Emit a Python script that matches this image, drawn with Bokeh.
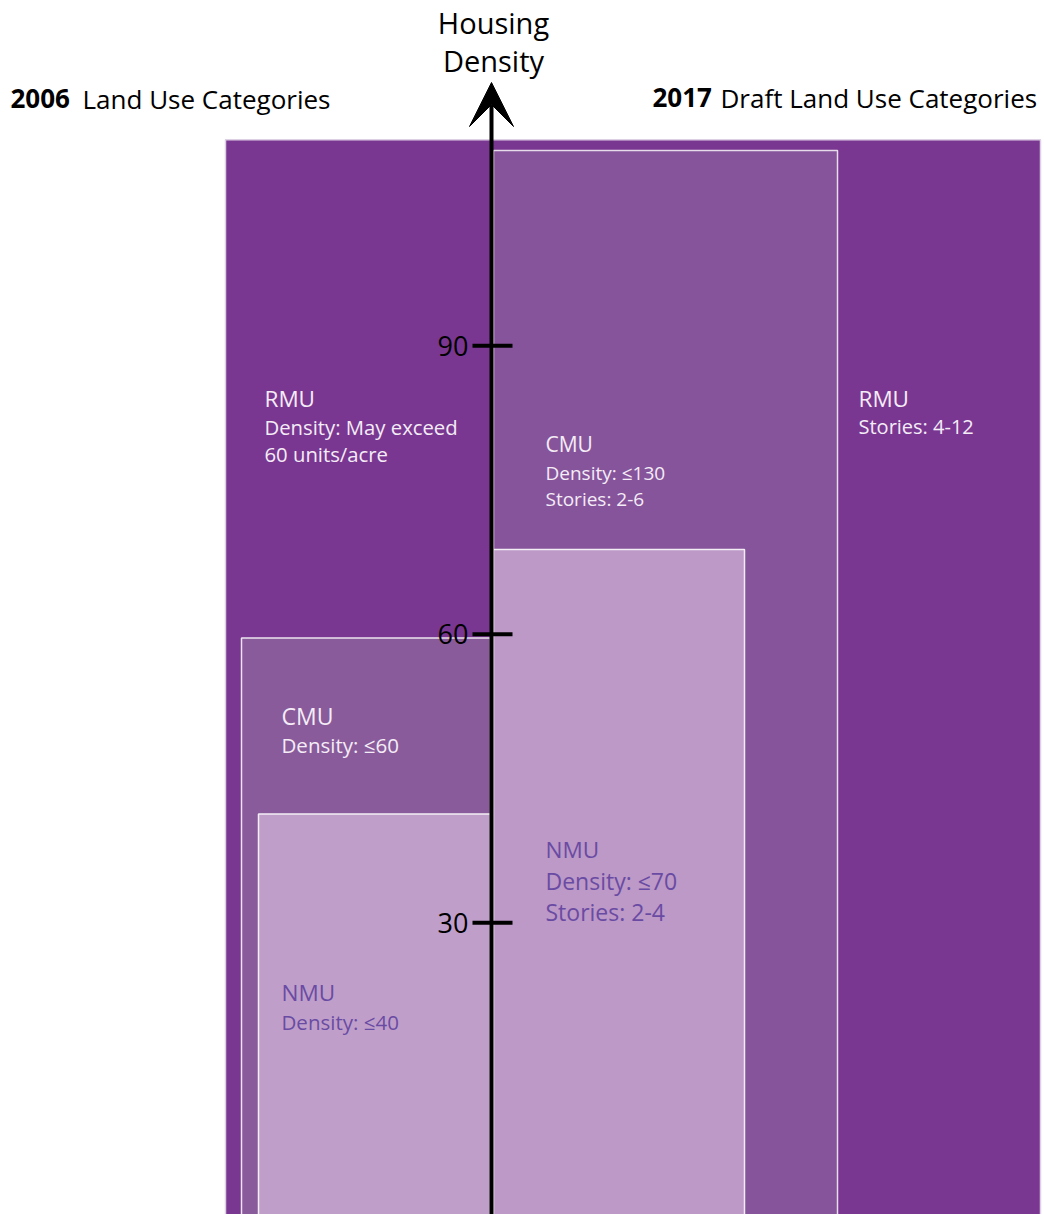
from bokeh.plotting import figure
from bokeh.models import Range1d, ColumnDataSource, Arrow, VeeHead
from bokeh.core.properties import value
from bokeh.embed import file_html
from bokeh.resources import INLINE

# ---------------- data ----------------
zones = ["RMU", "CMU", "NMU", "CMU", "NMU"]
plan_year = ["2006+2017", "2017", "2017", "2006", "2006"]
# top of each block on the density axis, as drawn in the picture
block_top = [111.4, 110.3, 68.8, 59.6, 41.3]
block_bottom = [-5, -5, -5, -5, -5]
tick_values = [30, 60, 90]
tick_labels = ["30", "60", "90"]
axis_title = ["Housing", "Density"]
left_title = ["2006", "Land Use Categories"]
right_title = ["2017", "Draft Land Use Categories"]
block_text = {
    "RMU_2006": ["RMU", "Density: May exceed", "60 units/acre"],
    "RMU_2017": ["RMU", "Stories: 4-12"],
    "CMU_2017": ["CMU", "Density: \u2264130", "Stories: 2-6"],
    "CMU_2006": ["CMU", "Density: \u226460"],
    "NMU_2017": ["NMU", "Density: \u226470", "Stories: 2-4"],
    "NMU_2006": ["NMU", "Density: \u226440"],
}

# ---------------- layout / style ----------------
W, H = 1044, 1214
K = 9.617
Y1 = 1210.7 / K
Y0 = Y1 - H / K


def py(img_y):
    """pixel row -> density axis value (annotation placement only)"""
    return Y1 - img_y / K


FONT = "Open Sans"
block_left = [225, 493, 493, 241, 258]
block_right = [1040, 837, 744, 490, 490]
block_fill = ["#7a3792", "#86549b", "#bc99c7", "#895b9b", "#bf9fca"]
block_line = ["#ddd0e4", "#e6dcea", "#f2ecf4", "#ece4ef", "#f4eef6"]
AXIS_X = 491

p = figure(width=W, height=H, x_range=Range1d(0, W), y_range=Range1d(Y0, Y1),
           output_backend="svg", toolbar_location=None, min_border=0,
           x_axis_location=None, y_axis_location=None)
p.grid.visible = False
p.outline_line_color = None
p.background_fill_color = "white"
p.border_fill_color = "white"

src = ColumnDataSource(dict(left=block_left, right=block_right, top=block_top,
                            bottom=block_bottom, fill=block_fill, line=block_line,
                            zone=zones, year=plan_year))
p.quad(left="left", right="right", top="top", bottom="bottom", source=src,
       fill_color="fill", line_color="line", line_width=1.5)

# axis with arrow
p.add_layout(Arrow(end=VeeHead(size=44, fill_color="black", line_color="black", line_width=1),
                   x_start=AXIS_X, y_start=Y0 - 5, x_end=AXIS_X, y_end=py(82),
                   line_color="black", line_width=4))
p.segment(x0=[AXIS_X - 19] * len(tick_values), x1=[AXIS_X + 21] * len(tick_values),
          y0=tick_values, y1=tick_values, line_color="black", line_width=4)
p.text(x=[468] * len(tick_values), y=tick_values, text=tick_labels,
       text_align="right", text_baseline="middle", text_color="black",
       text_font=value(FONT), text_font_size="27px")

# axis title
p.text(x=[493] * 2, y=[py(22), py(60)], text=axis_title, text_align="center",
       text_baseline="middle", text_color="black", text_font=value(FONT),
       text_font_size="29px")

# column titles
TS = "26px"
p.text(x=[10], y=[py(98)], text=[left_title[0]], text_align="left", text_baseline="middle",
       text_color="black", text_font=value(FONT), text_font_size=TS, text_font_style="bold")
p.text(x=[82], y=[py(98)], text=[left_title[1]], text_align="left", text_baseline="middle",
       text_color="black", text_font=value(FONT), text_font_size=TS)
p.text(x=[652], y=[py(97)], text=[right_title[0]], text_align="left", text_baseline="middle",
       text_color="black", text_font=value(FONT), text_font_size=TS, text_font_style="bold")
p.text(x=[720], y=[py(97)], text=[right_title[1]], text_align="left", text_baseline="middle",
       text_color="black", text_font=value(FONT), text_font_size=TS)


def block_label(key, x, rows, color, head_size, sub_size):
    lines = block_text[key]
    p.text(x=[x], y=[py(rows[0])], text=[lines[0]], text_align="left", text_baseline="middle",
           text_color=color, text_font=value(FONT), text_font_size=head_size)
    if len(lines) > 1:
        p.text(x=[x] * (len(lines) - 1), y=[py(r) for r in rows[1:]], text=lines[1:],
               text_align="left", text_baseline="middle", text_color=color,
               text_font=value(FONT), text_font_size=sub_size)


WHITE = "#f4ecf6"
NMU_TXT = "#6a4ba3"
block_label("RMU_2006", 264, [398, 426, 453], WHITE, "22.5px", "20.3px")
block_label("RMU_2017", 858, [398, 426], WHITE, "22.5px", "20px")
block_label("CMU_2017", 545, [443, 472, 498], WHITE, "21px", "19px")
block_label("CMU_2006", 281, [715, 744], WHITE, "23px", "20.5px")
block_label("NMU_2017", 545, [849, 880, 911], NMU_TXT, "22.5px", "23px")
block_label("NMU_2006", 281, [992, 1021], NMU_TXT, "22.5px", "20.5px")

open("out.html", "w").write(file_html(p, INLINE))
